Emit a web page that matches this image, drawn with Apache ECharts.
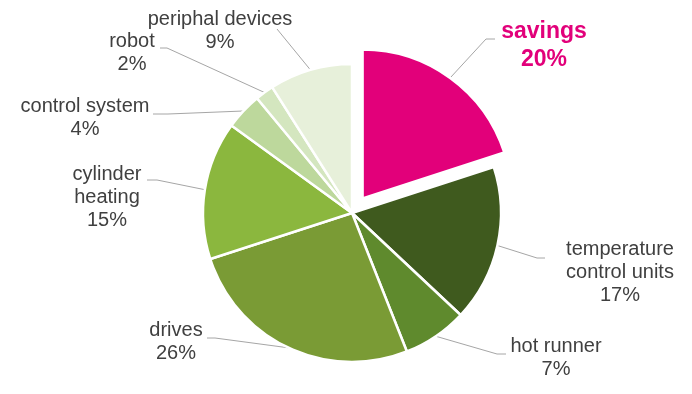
<!DOCTYPE html>
<html><head><meta charset="utf-8">
<script src="https://cdn.jsdelivr.net/npm/echarts@6/dist/echarts.min.js"></script>
<style>html,body{margin:0;padding:0;background:#fff}#c{width:692px;height:394px}</style>
</head><body><div id="c"></div>
<script>
const categories = ['savings','temperature control units','hot runner','drives','cylinder heating','control system','robot','periphal devices'];
const labelNames = ['savings','temperature\ncontrol units','hot runner','drives','cylinder\nheating','control system','robot','periphal devices'];
const values = [20,17,7,26,15,4,2,9];
const colors = ['#E2007A','#3F5A1E','#5F8A2D','#7A9B35','#8BB73E','#BDD89C','#D4E6BF','#E7F0DA'];
const explodedIndex = 0;

// label layout (positions only)
const labelAnchors = [[544,18],[620,238],[556,335],[176,319],[107,163],[85,95],[132,30],[220,8]];
const lineEnds = [[495,39],[545,258],[506,354],[207,338],[147,180],[153,114],[160,48],[277,29]];
const lineElbows = [[486,39],[537,258],[497,354],[215,338],[157,180],[168,114],[167,48],[277,29]];

const CX = 352, CY = 213, R = 149, OFFSET = 18;
const total = values.reduce((a, b) => a + b, 0);
function midAngle(i) {
  let before = 0;
  for (let j = 0; j < i; j++) before += values[j];
  return (before + values[i] / 2) / total * 2 * Math.PI;
}
function edgePoint(i) {
  const a = midAngle(i);
  const r = R + (i === explodedIndex ? OFFSET : 0);
  return [CX + r * Math.sin(a), CY - r * Math.cos(a)];
}
const ea = midAngle(explodedIndex);
const explodedCenter = [CX + OFFSET * Math.sin(ea), CY - OFFSET * Math.cos(ea)];

function makeSeries(center, visible) {
  return {
    type: 'pie',
    center: center,
    radius: [0, R],
    startAngle: 90,
    clockwise: true,
    silent: true,
    emphasis: {disabled: true},
    label: {
      show: true,
      fontFamily: 'Liberation Sans, Arial, sans-serif',
      fontSize: 20,
      lineHeight: 23,
      color: '#404040',
      align: 'center',
      formatter: p => labelNames[p.dataIndex] + '\n' + p.value + '%'
    },
    labelLine: {show: true, lineStyle: {color: '#A6A6A6', width: 1}},
    labelLayout: function (p) {
      const i = p.dataIndex;
      return {
        x: labelAnchors[i][0],
        y: labelAnchors[i][1],
        align: 'center',
        verticalAlign: 'top',
        labelLinePoints: [edgePoint(i), lineElbows[i], lineEnds[i]]
      };
    },
    data: categories.map((c, i) => {
      const show = visible(i);
      const d = {
        name: c, value: values[i],
        itemStyle: show ? {color: colors[i], borderColor: '#ffffff', borderWidth: 2.5}
                        : {color: 'rgba(0,0,0,0)', borderColor: 'rgba(0,0,0,0)', borderWidth: 0},
        label: {show: show},
        labelLine: {show: show}
      };
      if (show && i === explodedIndex) {
        d.label = {show: true, color: '#E2007A', fontWeight: 'bold', fontSize: 23, lineHeight: 28};
      }
      return d;
    })
  };
}

const chart = echarts.init(document.getElementById('c'), null, {renderer: 'canvas'});
chart.setOption({
  backgroundColor: '#ffffff',
  animation: false,
  series: [
    makeSeries([CX, CY], i => i !== explodedIndex),
    makeSeries(explodedCenter, i => i === explodedIndex)
  ]
});
</script></body></html>
